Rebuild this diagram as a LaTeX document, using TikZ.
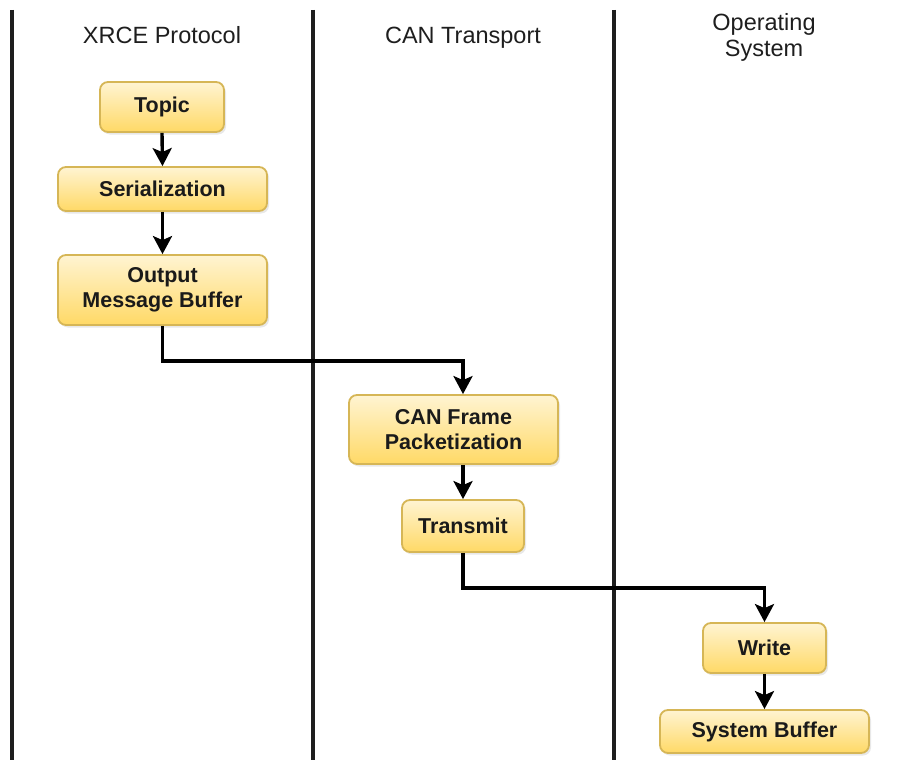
\documentclass[tikz,border=0pt]{standalone}
\usepackage{fontspec}
\setmainfont{Liberation Sans}
\usetikzlibrary{arrows.meta,shadows}
\definecolor{boxtop}{HTML}{FFF4D2}
\definecolor{boxbot}{HTML}{FFD966}
\definecolor{boxline}{HTML}{D6B656}
\definecolor{ink}{HTML}{1A1A1A}
\definecolor{laneink}{HTML}{1E1E1E}
\tikzset{
  stepbox/.style={draw=boxline, line width=1.8pt, rounded corners=8pt,
    top color=boxtop, bottom color=boxbot, text=ink,
    font=\bfseries\fontsize{21.5}{25}\selectfont, align=center,
    inner sep=0pt,
    drop shadow={opacity=0.18, shadow xshift=2pt, shadow yshift=-2.5pt}},
  lanetitle/.style={text=laneink, font=\fontsize{23.5}{26}\selectfont, align=center},
  oneline/.style={text height=17pt, text depth=5pt, inner sep=0pt},
  laneline/.style={draw=laneink, line width=3.2pt},
  flow/.style={draw=black, line width=3.4pt,
    -{Stealth[length=18pt,width=19pt,inset=4pt]}},
}
\begin{document}
\begin{tikzpicture}[x=1pt,y=-1pt]
  \useasboundingbox[fill=white] (0,0) rectangle (908,760);

  % lane separators
  \coordinate (l1t) at (12,10);   \coordinate (l1b) at (12,760);
  \coordinate (l2t) at (313,10);  \coordinate (l2b) at (313,760);
  \coordinate (l3t) at (614,10);  \coordinate (l3b) at (614,760);
  \draw[laneline] (l1t) -- (l1b);
  \draw[laneline] (l2t) -- (l2b);
  \draw[laneline] (l3t) -- (l3b);

  % lane titles
  \node[lanetitle, oneline] (h1) at (162,38) {XRCE Protocol};
  \node[lanetitle, oneline] (h2) at (463,38) {CAN Transport};
  \node[lanetitle] (h3) at (764,37.5) {Operating\\System};

  % process steps
  \node[stepbox, minimum width=124pt, minimum height=50pt] (topic) at (162,107) {Topic};
  \node[stepbox, minimum width=209pt, minimum height=44pt] (ser) at (162.5,189) {Serialization};
  \node[stepbox, minimum width=209pt, minimum height=70pt] (omb) at (162.5,290) {Output\\Message Buffer};
  \node[stepbox, minimum width=209pt, minimum height=69pt] (canf) at (453.5,429.5) {CAN Frame\\Packetization};
  \node[stepbox, minimum width=122pt, minimum height=52pt] (tx) at (463,526) {Transmit};
  \node[stepbox, minimum width=123pt, minimum height=50pt] (write) at (764.5,648) {Write};
  \node[stepbox, minimum width=209pt, minimum height=43pt] (sysbuf) at (764.5,731.5) {System Buffer};

  % data flow
  \draw[flow] (topic.south) -- (ser.north);
  \draw[flow] (ser.south) -- (omb.north);
  \draw[flow] (omb.south) -- ++(0,35) -| (tx.north |- canf.north);
  \draw[flow] (tx.north |- canf.south) -- (tx.north);
  \draw[flow] (tx.south) -- ++(0,35) -| (write.north);
  \draw[flow] (write.south) -- (sysbuf.north);
\end{tikzpicture}
\end{document}
